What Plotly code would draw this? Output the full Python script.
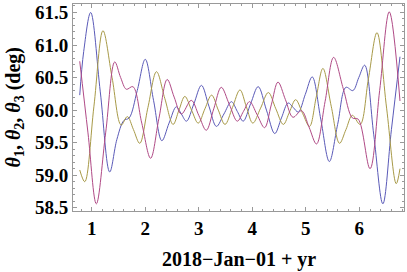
import plotly.graph_objects as go

# theta1 (blue)
t1_x = [0.776, 0.85, 0.98, 1.16, 1.336, 1.47, 1.60, 1.70, 1.85, 2.00, 2.155, 2.31, 2.445, 2.58, 2.675, 2.77,
        2.91, 3.05, 3.19, 3.33, 3.47, 3.61, 3.72, 3.83, 3.97, 4.11, 4.265, 4.42, 4.545, 4.67, 4.765, 4.86,
        4.99, 5.12, 5.28, 5.44, 5.595, 5.75, 5.88, 5.99, 6.10, 6.27, 6.44, 6.60, 6.76]
t1_y = [60.23, 60.90, 61.50, 60.28, 59.05, 59.55, 59.84, 59.88, 60.30, 60.78, 60.15, 59.53, 59.80, 60.05, 59.94, 59.83,
        60.10, 60.38, 60.06, 59.75, 59.94, 60.13, 59.98, 59.83, 60.10, 60.36, 60.00, 59.64, 59.88, 60.11, 60.04, 59.97,
        60.24, 60.51, 59.86, 59.21, 59.78, 60.35, 60.30, 60.50, 60.69, 59.62, 58.56, 59.70, 60.82]

# theta2 (purple)
t2_x = [0.776, 0.93, 1.086, 1.26, 1.43, 1.54, 1.647, 1.77, 1.935, 2.10, 2.255, 2.41, 2.54, 2.675, 2.86, 3.00,
        3.14, 3.28, 3.42, 3.57, 3.72, 3.835, 3.95, 4.09, 4.23, 4.355, 4.48, 4.62, 4.76, 4.92, 5.06, 5.20,
        5.36, 5.52, 5.70, 5.87, 5.98, 6.20, 6.38, 6.56, 6.76]
t2_y = [60.75, 59.65, 58.56, 59.65, 60.74, 60.50, 60.32, 60.36, 59.80, 59.26, 59.87, 60.47, 60.20, 59.94, 60.15, 59.92,
        59.69, 60.02, 60.35, 60.09, 59.83, 59.98, 60.13, 59.93, 59.73, 60.08, 60.43, 60.16, 59.89, 59.99, 59.74, 59.48,
        60.13, 60.81, 60.33, 59.88, 59.86, 59.10, 60.30, 61.51, 60.14]

# theta3 (olive)
t3_x = [0.776, 0.87, 1.04, 1.21, 1.38, 1.55, 1.665, 1.78, 1.897, 2.05, 2.21, 2.365, 2.52, 2.63, 2.74, 2.865,
        2.99, 3.115, 3.24, 3.365, 3.49, 3.63, 3.77, 3.89, 4.01, 4.155, 4.30, 4.44, 4.58, 4.695, 4.81, 4.94,
        5.07, 5.195, 5.32, 5.475, 5.63, 5.75, 5.87, 6.015, 6.17, 6.33, 6.51, 6.69, 6.76]
t3_y = [59.08, 58.90, 60.05, 61.22, 60.50, 59.77, 59.90, 59.70, 59.49, 60.04, 60.59, 60.18, 59.78, 60.00, 60.21, 60.00,
        59.80, 60.02, 60.23, 60.00, 59.78, 60.04, 60.31, 60.05, 59.80, 60.03, 60.27, 60.02, 59.78, 59.97, 60.16, 59.95,
        59.75, 60.20, 60.64, 60.06, 59.49, 59.70, 59.92, 59.78, 60.48, 61.19, 60.03, 58.87, 59.10]

x_ticks = [1, 2, 3, 4, 5, 6]
y_ticks = [58.5, 59.0, 59.5, 60.0, 60.5, 61.0, 61.5]
y_tick_text = ["58.5", "59.0", "59.5", "60.0", "60.5", "61.0", "61.5"]
x_title = "2018−Jan−01 + yr"
y_title = "<i>θ</i><sub>1</sub>, <i>θ</i><sub>2</sub>, <i>θ</i><sub>3</sub> (deg)"

fig = go.Figure()
for xs, ys, col in [(t1_x, t1_y, "#5a5ab8"), (t3_x, t3_y, "#a89a48"), (t2_x, t2_y, "#b04a86")]:
    fig.add_trace(go.Scatter(x=xs, y=ys, mode="lines", line=dict(color=col, width=1, shape="spline", smoothing=1.0),
                             showlegend=False, hoverinfo="skip"))

serif = "Liberation Serif, Times New Roman, serif"
fig.update_layout(
    width=407, height=272,
    margin=dict(l=73, r=3, t=4, b=61),
    paper_bgcolor="white", plot_bgcolor="white",
    font=dict(family=serif, color="black"),
    xaxis=dict(range=[0.65, 6.835], tickvals=x_ticks, ticks="inside", ticklen=4, tickcolor="#999999",
               showline=True, linecolor="#999999", linewidth=1, mirror="allticks", showgrid=False, zeroline=False,
               automargin=False,
               tickfont=dict(family=serif, size=19, color="black", weight="bold"),
               minor=dict(dtick=0.2, ticks="inside", ticklen=2, tickcolor="#999999", showgrid=False)),
    yaxis=dict(range=[58.45, 61.63], tickvals=y_ticks, ticktext=y_tick_text, ticks="inside", ticklen=4,
               tickcolor="#999999", showline=True, linecolor="#999999", linewidth=1, mirror="allticks",
               showgrid=False, zeroline=False, automargin=False,
               tickfont=dict(family=serif, size=19, color="black", weight="bold"),
               minor=dict(dtick=0.1, ticks="inside", ticklen=2, tickcolor="#999999", showgrid=False)),
    annotations=[
        dict(text="<b>" + x_title + "</b>", xref="paper", yref="paper", x=0.5, y=0, yshift=-48,
             xanchor="center", yanchor="middle", showarrow=False, font=dict(family=serif, size=20, color="black")),
        dict(text="<b>" + y_title + "</b>", xref="paper", yref="paper", x=0, y=0.5, xshift=-59,
             xanchor="center", yanchor="middle", textangle=-90, showarrow=False,
             font=dict(family=serif, size=20, color="black")),
    ],
)
fig.write_html("out.html", config={"displayModeBar": False},
               post_script="document.body.style.margin='0';document.body.style.overflow='hidden';")
